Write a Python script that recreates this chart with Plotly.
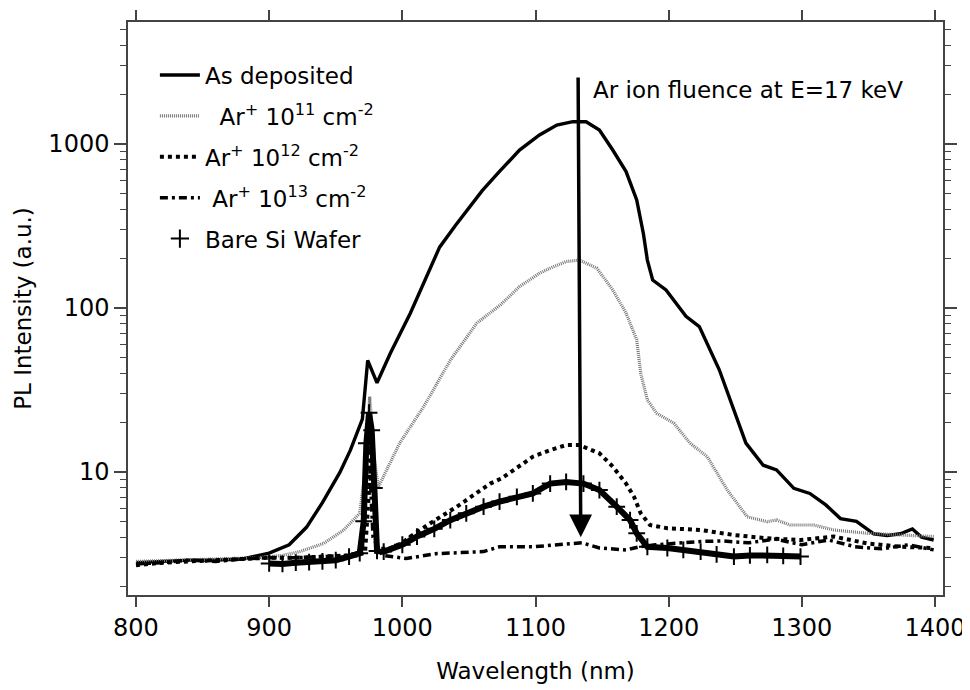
import plotly.graph_objects as go
import math

# ---------------- data ----------------
asdep_wl = [800, 820, 840, 860, 880, 900, 915, 928, 940, 953, 961, 970, 974, 981, 991, 1006, 1028, 1040, 1050, 1060,
            1073, 1088, 1103, 1116, 1128, 1138, 1148, 1158, 1168, 1176, 1181, 1184, 1188, 1198, 1213, 1223,
            1238, 1248, 1258, 1271, 1281, 1294, 1306, 1318, 1329, 1341, 1354, 1364, 1374, 1383, 1390, 1399]
asdep_pl = [2.8, 2.85, 2.9, 2.9, 2.95, 3.2, 3.6, 4.6, 6.5, 9.9, 13.6, 21, 48, 35, 53, 93, 235, 320, 410, 520,
            680, 919, 1135, 1305, 1368, 1368, 1217, 919, 679, 456, 285, 196, 148, 129, 89, 77,
            42, 25, 15, 11, 10.3, 7.95, 7.4, 6.3, 5.2, 5.0, 4.2, 4.1, 4.2, 4.5, 4.0, 3.85]

e11_wl = [800, 830, 860, 890, 910, 923, 941, 956, 968, 972, 975.5, 979, 982, 990, 998, 1016, 1036, 1056, 1074,
          1088, 1103, 1111, 1123, 1133, 1146, 1158, 1168, 1176, 1179, 1184, 1191, 1204, 1216, 1229, 1244,
          1259, 1274, 1281, 1291, 1309, 1324, 1349, 1374, 1399]
e11_pl = [2.85, 2.9, 2.95, 3.0, 3.1, 3.27, 3.67, 4.43, 5.6, 10, 28.8, 12, 8.1, 11, 15, 25, 48, 81, 105,
          135, 163, 175, 192, 196, 175, 129, 93, 64, 40, 27.5, 22.8, 19.8, 15, 12.4, 7.76,
          5.33, 4.98, 5.1, 4.75, 4.75, 4.43, 4.23, 4.13, 4.04]

e12_wl = [800, 820, 840, 860, 880, 900, 920, 940, 960, 972, 977, 981, 990, 1000, 1006, 1021, 1041, 1066, 1074,
          1091, 1098, 1111, 1123, 1133, 1148, 1158, 1168, 1174, 1179, 1186, 1199, 1224, 1249, 1274, 1299,
          1324, 1349, 1374, 1399]
e12_pl = [2.7, 2.8, 2.85, 2.9, 2.95, 3.0, 3.0, 3.05, 3.1, 3.2, 14, 3.4, 3.4, 3.7, 4.04, 4.87, 6.15, 8.5, 9.1,
          11.3, 12.4, 13.6, 14.6, 14.6, 13, 10.8, 8.5, 7.06, 5.6, 4.75, 4.54, 4.43, 4.13, 3.94, 3.85,
          4.04, 3.67, 3.5, 3.44]

e13_wl = [800, 820, 840, 860, 880, 900, 920, 940, 960, 970, 974, 978, 985, 1003, 1026, 1061, 1073, 1098, 1123,
          1135, 1148, 1168, 1178, 1190, 1210, 1224, 1240, 1260, 1280, 1300, 1320, 1340, 1360, 1380, 1399]
e13_pl = [2.75, 2.8, 2.9, 2.85, 2.95, 3.0, 3.0, 3.05, 3.1, 3.3, 20, 4, 3.1, 2.97, 3.18, 3.27, 3.5, 3.5, 3.64,
          3.7, 3.44, 3.35, 3.5, 3.6, 3.7, 3.77, 3.8, 3.7, 3.9, 3.6, 3.85, 3.5, 3.4, 3.6, 3.35]

si_wl = [900, 910, 920, 930, 940, 950, 960, 968, 971, 973, 975, 977, 979, 981, 986, 1000, 1011, 1024, 1036, 1048,
         1061, 1073, 1086, 1098, 1111, 1123, 1136, 1148, 1161, 1171, 1176, 1184, 1199, 1211, 1224, 1236,
         1249, 1261, 1274, 1286, 1299]
si_pl = [2.77, 2.75, 2.8, 2.82, 2.85, 2.9, 3.05, 3.2, 5, 15, 23, 18, 8, 3.3, 3.27, 3.6, 4.04, 4.5, 5.09, 5.6,
         6.15, 6.6, 7.06, 7.4, 8.5, 8.7, 8.5, 7.76, 6.15, 5.09, 4.23, 3.5, 3.44, 3.35, 3.27, 3.15,
         3.05, 3.1, 3.12, 3.08, 3.05]

x_ticks = [800, 900, 1000, 1100, 1200, 1300, 1400]
y_ticks = [10, 100, 1000]
y_ticktext = ["10", "100", "1000"]

arrow_wl_top, arrow_wl_tip = 1132, 1134
arrow_pl_top, arrow_pl_tip = 2600, 4.0
annot_wl, annot_pl = 1142, 2140
annot_text = "Ar ion fluence at E=17 keV"

FONT = "DejaVu Sans"

fig = go.Figure()
fig.add_trace(go.Scatter(x=asdep_wl, y=asdep_pl, mode="lines", name="As deposited", legendgroup="a",
                         line=dict(color="black", width=3.4)))
fig.add_trace(go.Scatter(x=e11_wl, y=e11_pl, mode="lines", legendgroup="b",
                         name="  Ar<sup>+</sup> 10<sup>11</sup> cm<sup>-2</sup>",
                         line=dict(color="#767676", width=3.2, dash="1px,1px")))
fig.add_trace(go.Scatter(x=e12_wl, y=e12_pl, mode="lines", legendgroup="c",
                         name="Ar<sup>+</sup> 10<sup>12</sup> cm<sup>-2</sup>",
                         line=dict(color="black", width=4, dash="4px,4px")))
fig.add_trace(go.Scatter(x=e13_wl, y=e13_pl, mode="lines", legendgroup="d",
                         name=" Ar<sup>+</sup> 10<sup>13</sup> cm<sup>-2</sup>",
                         line=dict(color="black", width=3.5, dash="8px,4px,3px,4px")))
fig.add_trace(go.Scatter(x=si_wl, y=si_pl, mode="lines+markers", name="Bare Si Wafer", showlegend=False,
                         legendgroup="e",
                         line=dict(color="black", width=6),
                         marker=dict(symbol="cross-thin", size=12, line=dict(color="black", width=2))))
fig.add_trace(go.Scatter(x=[None], y=[None], mode="markers", name="Bare Si Wafer", legendgroup="e",
                         marker=dict(symbol="cross-thin", size=13, line=dict(color="black", width=2))))

fig.add_annotation(x=arrow_wl_tip, y=math.log10(arrow_pl_tip), ax=arrow_wl_top, ay=math.log10(arrow_pl_top),
                   xref="x", yref="y", axref="x", ayref="y", text="", showarrow=True,
                   arrowhead=2, arrowsize=1.3, arrowwidth=3.5, arrowcolor="black")
fig.add_annotation(x=annot_wl, y=math.log10(annot_pl), xref="x", yref="y", text=annot_text,
                   showarrow=False, xanchor="left", yanchor="middle",
                   font=dict(family=FONT, size=23, color="black"))

axis_common = dict(showline=True, linecolor="#444", linewidth=1.5, mirror="ticks", ticks="outside",
                   tickcolor="#444", tickwidth=1.5, showgrid=False, zeroline=False, automargin=False,
                   tickfont=dict(family=FONT, size=24, color="black"))

fig.update_xaxes(range=[794, 1406], tickvals=x_ticks, ticklen=10,
                 title=dict(text="Wavelength (nm)", font=dict(family=FONT, size=23, color="black"), standoff=22),
                 **axis_common)
fig.update_yaxes(type="log", range=[0.25, 3.744], tickvals=y_ticks, ticktext=y_ticktext, ticklen=12,
                 minor=dict(ticks="outside", ticklen=6, tickcolor="#444", tickwidth=1.2, dtick="D1"),
                 title=dict(text="PL Intensity (a.u.)", font=dict(family=FONT, size=23, color="black"), standoff=10),
                 **axis_common)

# the page adds an 8px body margin, so the figure is sized/margined to land the frame where the reference has it
fig.update_layout(width=962, height=682, margin=dict(l=120, r=27, t=14, b=95),
                  paper_bgcolor="white", plot_bgcolor="white",
                  legend=dict(x=0.033, y=0.945, xanchor="left", yanchor="top", bgcolor="rgba(0,0,0,0)",
                              font=dict(family=FONT, size=23, color="black"), tracegroupgap=8,
                              itemwidth=40),
                  font=dict(family=FONT))

fig.write_html("out.html")
